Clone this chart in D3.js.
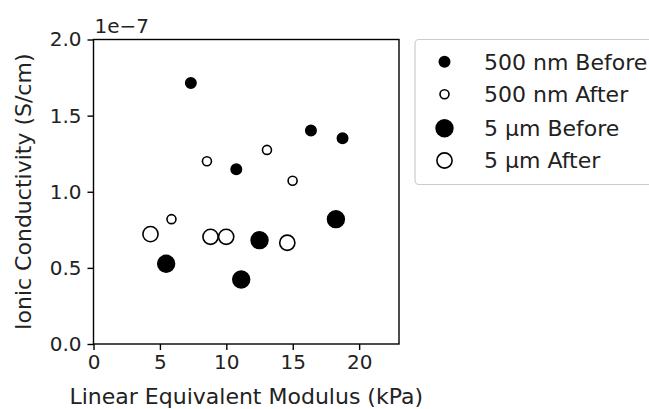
<!DOCTYPE html>
<html><head><meta charset="utf-8">
<script src="https://cdn.jsdelivr.net/npm/d3@7"></script>
<style>body{margin:0;background:#fff;}svg{display:block;font-family:"DejaVu Sans",sans-serif;}</style>
</head><body>
<svg id="c" width="649" height="409"></svg>
<script>
// Data (conductivity in units of 1e-7 S/cm)
const nmBeforeX = [7.33, 10.75, 16.37, 18.75];
const nmBeforeY = [1.715, 1.148, 1.402, 1.352];
const nmAfterX = [8.54, 13.06, 14.99, 5.87];
const nmAfterY = [1.20, 1.275, 1.072, 0.82];
const umBeforeX = [5.47, 11.12, 12.5, 18.25];
const umBeforeY = [0.527, 0.424, 0.682, 0.82];
const umAfterX = [4.29, 8.81, 9.99, 14.59];
const umAfterY = [0.722, 0.704, 0.704, 0.665];
const xTicks = [0, 5, 10, 15, 20];
const yTicks = [0.0, 0.5, 1.0, 1.5, 2.0];
const seriesNames = ["500 nm Before", "500 nm After", "5 \u00b5m Before", "5 \u00b5m After"];

const series = [
  {name: seriesNames[0], xs: nmBeforeX, ys: nmBeforeY, r: 5.2, fill: "#000"},
  {name: seriesNames[1], xs: nmAfterX, ys: nmAfterY, r: 4.5, fill: "#fff"},
  {name: seriesNames[2], xs: umBeforeX, ys: umBeforeY, r: 8.4, fill: "#000"},
  {name: seriesNames[3], xs: umAfterX, ys: umAfterY, r: 7.6, fill: "#fff"}
];

const L = 93.5, R = 399, T = 39.5, B = 344;
const svg = d3.select("#c");
const x = d3.scaleLinear().domain([0, 23]).range([L, R]);
const y = d3.scaleLinear().domain([0, 2]).range([B, T]);

// points
series.forEach(s => {
  svg.append("g").selectAll("circle").data(s.xs.map((v, i) => [v, s.ys[i]]))
    .enter().append("circle")
    .attr("cx", d => x(d[0])).attr("cy", d => y(d[1]))
    .attr("r", s.r).attr("fill", s.fill)
    .attr("stroke", "#000").attr("stroke-width", 1.6);
});

// axes
const xAxis = d3.axisBottom(x).tickValues(xTicks).tickFormat(d3.format("d")).tickSize(6).tickPadding(5);
const yAxis = d3.axisLeft(y).tickValues(yTicks).tickFormat(d3.format(".1f")).tickSize(6).tickPadding(6);
const gx = svg.append("g").attr("transform", `translate(0,${B})`).call(xAxis);
const gy = svg.append("g").attr("transform", `translate(${L},0)`).call(yAxis);
[gx, gy].forEach(g => {
  g.select(".domain").remove();
  g.selectAll(".tick line").attr("stroke", "#000").attr("stroke-width", 1.4);
  g.selectAll(".tick text").attr("fill", "#222").style("font-size", "20px").style("font-family", "DejaVu Sans");
});
svg.append("rect").attr("x", L).attr("y", T).attr("width", R - L).attr("height", B - T)
  .attr("fill", "none").attr("stroke", "#000").attr("stroke-width", 1.4);

// offset text
svg.append("text").attr("x", L + 1).attr("y", 33).attr("font-size", 20).attr("fill", "#222").text("1e\u22127");

// labels
svg.append("text").attr("x", (L + R) / 2).attr("y", 403.5).attr("text-anchor", "middle")
  .attr("font-size", 22).attr("fill", "#222").text("Linear Equivalent Modulus (kPa)");
svg.append("text").attr("transform", `translate(31,${(T + B) / 2}) rotate(-90)`).attr("text-anchor", "middle")
  .attr("font-size", 22).attr("fill", "#222").text("Ionic Conductivity (S/cm)");

// legend
const lg = svg.append("g");
lg.append("rect").attr("x", 415).attr("y", 39.5).attr("width", 250).attr("height", 145).attr("rx", 4)
  .attr("fill", "#fff").attr("fill-opacity", 0.8).attr("stroke", "#ccc").attr("stroke-width", 1.2);
const rowY = [61.7, 94.3, 128.3, 160.5];
series.forEach((s, i) => {
  lg.append("circle").attr("cx", 444.5).attr("cy", rowY[i]).attr("r", s.r).attr("fill", s.fill)
    .attr("stroke", "#000").attr("stroke-width", 1.6);
  lg.append("text").attr("x", 484).attr("y", rowY[i]).attr("dy", "0.36em").attr("font-size", 22)
    .attr("fill", "#222").text(s.name);
});
</script>
</body></html>
